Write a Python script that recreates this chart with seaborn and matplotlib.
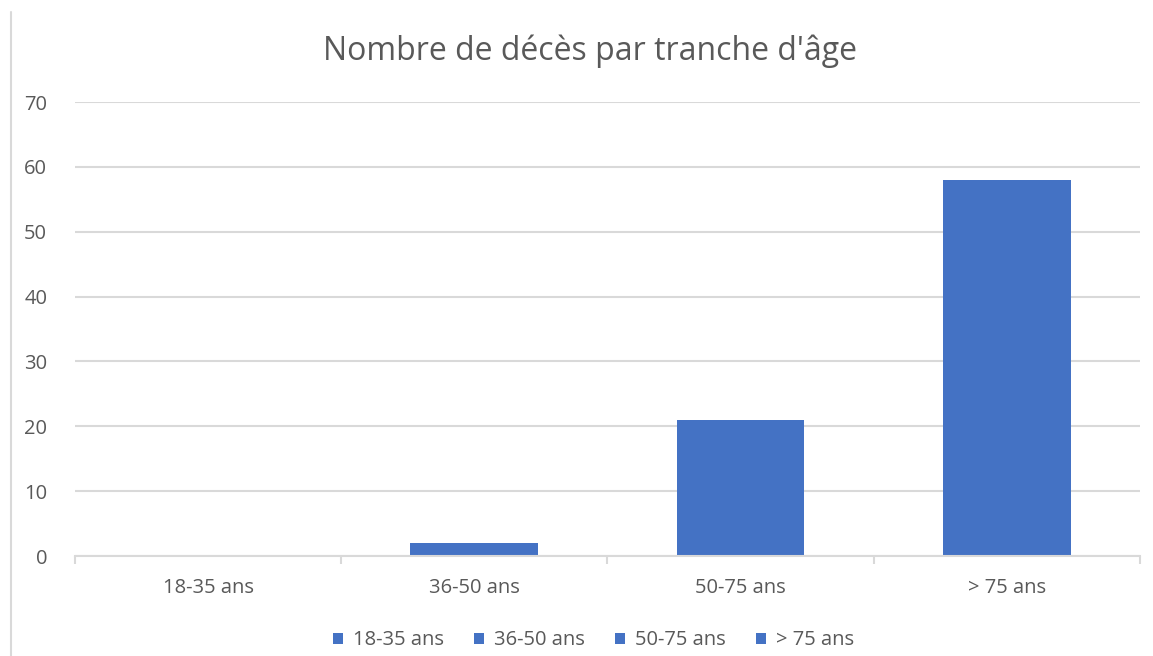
import matplotlib
matplotlib.use("Agg")
import matplotlib.pyplot as plt
import seaborn as sns
import pandas as pd
from matplotlib.lines import Line2D

categories = ['18-35 ans', '36-50 ans', '50-75 ans', '> 75 ans']
deces = [0, 2, 21, 58]

df = pd.DataFrame({'tranche': categories, 'deces': deces})

sns.set_style('white')
plt.rcParams['font.family'] = ['Open Sans', 'DejaVu Sans']

bleu = '#4472c4'
gris_txt = '#595959'
gris_grille = '#d9d9d9'

fig = plt.figure(figsize=(11.53, 6.56), dpi=100)
ax = fig.add_axes([0.065, 0.1524, 0.9237, 0.6921])

sns.barplot(data=df, x='tranche', y='deces', hue='tranche', palette=[bleu] * 4,
            width=0.48, ax=ax, legend=True, edgecolor='none', saturation=1)

ax.set_ylim(0, 70)
ax.set_xlim(-0.5, 3.5)
ax.set_yticks(range(0, 71, 10))
ax.yaxis.grid(True, color=gris_grille, linewidth=1.5)
ax.set_axisbelow(True)
for s in ['top', 'right', 'left']:
    ax.spines[s].set_visible(False)
ax.spines['bottom'].set_color(gris_grille)
ax.spines['bottom'].set_linewidth(1.5)

ax.set_xlabel('')
ax.set_ylabel('')
ax.tick_params(axis='both', length=0, labelsize=14.5, labelcolor=gris_txt)
ax.tick_params(axis='x', pad=16)
ax.tick_params(axis='y', pad=20)
ax.set_xticks([-0.5, 0.5, 1.5, 2.5, 3.5], minor=True)
ax.tick_params(axis='x', which='minor', bottom=True, length=6, color=gris_grille, width=1.5)

ax.set_title("Nombre de décès par tranche d'âge", fontsize=23, color=gris_txt, pad=30, x=0.484)

ax.legend(loc='upper center', bbox_to_anchor=(0.487, -0.124), ncol=4, frameon=False,
          handlelength=0.5, handleheight=0.5, handletextpad=0.5, columnspacing=1.5,
          fontsize=14.5, labelcolor=gris_txt)

fig.add_artist(Line2D([11 / 1153, 11 / 1153], [0, 1 - 12 / 656], color=gris_grille,
                      linewidth=1.5, transform=fig.transFigure))

fig.savefig('out.png', dpi=100)
